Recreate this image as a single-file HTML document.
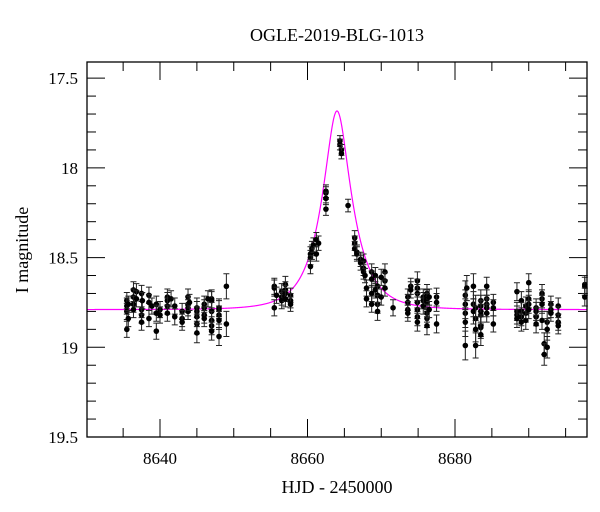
<!DOCTYPE html>
<html><head><meta charset="utf-8"><style>
body{margin:0;background:#fff}
svg{display:block}
text{font-family:"Liberation Serif",serif;fill:#000}
</style></head><body>
<svg id="chart" width="600" height="512" viewBox="0 0 600 512" xmlns="http://www.w3.org/2000/svg">
<text x="337" y="41" font-size="18" text-anchor="middle">OGLE-2019-BLG-1013</text>
<text x="337" y="493" font-size="18" text-anchor="middle">HJD - 2450000</text>
<text x="28" y="250" font-size="18" text-anchor="middle" transform="rotate(-90 28 250)">I magnitude</text>
<g id="axes"></g>
<g id="model"></g>
<g id="points"></g>
<rect x="87" y="62" width="500" height="375" fill="none" stroke="#000" stroke-width="1.3"/>
</svg>
<script>
// data: [time, [magnitudes], error]
const obsGroups = [
[8635.5,[18.74,18.77,18.80,18.90],0.045],[8635.7,[18.84,18.76],0.045],
[8636.4,[18.68,18.72,18.76,18.79],0.045],[8636.8,[18.69,18.73],0.045],
[8637.5,[18.70,18.79,18.82,18.86],0.045],[8637.6,[18.74],0.045],
[8638.5,[18.71,18.75,18.84],0.045],[8638.9,[18.77],0.045],
[8639.5,[18.76,18.81,18.91],0.045],[8640.0,[18.79,18.82],0.045],
[8641.0,[18.72,18.74,18.77,18.81],0.045],[8641.5,[18.73],0.045],
[8642.0,[18.77,18.83],0.045],[8643.0,[18.80,18.84,18.86],0.045],
[8643.8,[18.72,18.76,18.78,18.80],0.045],[8644.0,[18.75],0.045],
[8645.0,[18.78,18.80,18.83,18.87,18.92],0.055],[8646.0,[18.76,18.78,18.82,18.84],0.045],
[8646.5,[18.73],0.045],[8647.0,[18.73,18.74,18.80,18.85,18.88,18.91],0.05],
[8648.0,[18.78,18.79,18.82,18.85,18.94],0.05],[8649.0,[18.87,18.66],0.07],
[8655.5,[18.66,18.67,18.78],0.045],[8655.8,[18.71],0.045],
[8656.5,[18.69,18.72,18.74],0.045],[8657.0,[18.65,18.68,18.70,18.73],0.045],
[8657.7,[18.71,18.74,18.76],0.04],
[8660.4,[18.48,18.50,18.55],0.04],[8660.6,[18.45,18.47],0.04],[8660.8,[18.43],0.04],
[8661.2,[18.40,18.48],0.04],[8661.5,[18.42],0.04],
[8662.5,[18.13,18.14,18.17,18.23],0.035],
[8664.4,[17.85,17.87],0.03],[8664.6,[17.90,17.92],0.03],
[8665.5,[18.21],0.035],
[8666.4,[18.39,18.42,18.45],0.04],[8666.7,[18.47,18.48],0.04],
[8667.2,[18.51,18.53],0.04],[8667.6,[18.52,18.56,18.58],0.04],[8667.8,[18.60],0.04],
[8668.0,[18.67,18.73],0.045],[8668.7,[18.58,18.62,18.70,18.76],0.045],[8669.2,[18.60,18.68],0.045],
[8669.5,[18.66,18.71,18.76,18.80],0.05],[8670.0,[18.61,18.72],0.045],
[8670.5,[18.58,18.63,18.67],0.045],[8671.6,[18.78],0.045],
[8673.6,[18.72,18.75,18.79,18.81],0.045],[8674.0,[18.66,18.68],0.045],
[8674.9,[18.63,18.67,18.70,18.75,18.79,18.83,18.86],0.05],[8675.7,[18.72,18.74,18.77],0.045],
[8676.2,[18.70,18.73,18.75,18.81,18.84,18.88],0.05],[8676.5,[18.72,18.79],0.045],
[8677.5,[18.72,18.75,18.87],0.05],
[8681.4,[18.71,18.76,18.81,18.86,18.99],0.08],[8681.6,[18.67],0.07],
[8682.5,[18.66,18.76,18.80],0.07],[8682.8,[18.78,18.84,18.90,18.99],0.07],
[8683.5,[18.74,18.77,18.80,18.82,18.88,18.89,18.93],0.06],
[8684.3,[18.66,18.73,18.76,18.78,18.81],0.05],[8685.2,[18.75,18.78,18.87],0.045],
[8688.4,[18.69,18.80,18.82,18.84],0.05],[8689.0,[18.74,18.80,18.83,18.86],0.05],
[8689.6,[18.77,18.81,18.85],0.05],[8690.0,[18.64,18.73,18.76,18.79],0.05],
[8691.0,[18.78,18.80,18.83,18.87],0.05],[8691.8,[18.70,18.73,18.76,18.85],0.05],
[8692.1,[18.98,19.04],0.06],[8692.5,[18.86,18.90,19.00],0.06],
[8693.0,[18.76,18.79,18.81],0.045],[8694.0,[18.77,18.82,18.86,18.88],0.045],
[8697.6,[18.65,18.66,18.72],0.05]
];
const modelParams = [8664.0, 0.38, 3.9, 18.79]; // t0, u0, tE, baseline mag
const xTicks = [8640, 8660, 8680];
const yTicks = [17.5, 18, 18.5, 19, 19.5];
const xDomain = [8630.1, 8697.9];
const yDomain = [17.41, 19.5];

const NS = "http://www.w3.org/2000/svg";
const L=87,R=587,T=62,B=437;
const xs = t => L + (t - xDomain[0]) / (xDomain[1]-xDomain[0]) * (R-L);
const ys = m => T + (m - yDomain[0]) / (yDomain[1]-yDomain[0]) * (B-T);
function mk(tag, attrs, parent){const e=document.createElementNS(NS,tag);for(const k in attrs)e.setAttribute(k,attrs[k]);parent.appendChild(e);return e;}

const axes=document.getElementById('axes');
// x ticks every 5 days
for(let t=8635;t<=8695;t+=5){
  const major = xTicks.includes(t);
  const len = major?18:9, x=xs(t);
  const a=mk('line',{x1:x,x2:x,y1:B,y2:B-len,stroke:'#000','stroke-width':1},axes);
  
  
  const b=mk('line',{x1:x,x2:x,y1:T,y2:T+len,stroke:'#000','stroke-width':1},axes);
  
  
}
xTicks.forEach(t=>{
  const tx=mk('text',{x:xs(t),y:464,'font-size':17,'text-anchor':'middle'},axes);
  tx.textContent=t;
  
  
});
for(let i=0;i<=20;i++){
  const m=17.5+i*0.1; if(m>19.5001) break;
  const major = Math.abs(m*2-Math.round(m*2))<1e-6;
  const len=major?18:9, y=ys(m);
  const a=mk('line',{x1:L,x2:L+len,y1:y,y2:y,stroke:'#000','stroke-width':1},axes);
  
  
  const b=mk('line',{x1:R,x2:R-len,y1:y,y2:y,stroke:'#000','stroke-width':1},axes);
  
  
}
yTicks.forEach(m=>{
  const tx=mk('text',{x:78,y:ys(m)+6,'font-size':17,'text-anchor':'end'},axes);
  tx.textContent=m;
  
  
});

// model curve
const [t0,u0,tE,base]=modelParams;
let d='';
for(let t=xDomain[0];t<=xDomain[1];t+=0.05){
  const u=Math.sqrt(u0*u0+((t-t0)/tE)**2);
  const A=(u*u+2)/(u*Math.sqrt(u*u+4));
  const m=base-2.5*Math.log10(A);
  d+=(d?'L':'M')+xs(t).toFixed(2)+' '+ys(m).toFixed(2);
}
const mp=mk('path',{d:d,fill:'none',stroke:'#ff00ff','stroke-width':1.2},document.getElementById('model'));



// data points
const pts=document.getElementById('points');
obsGroups.forEach(g=>{
  const t=g[0], err=g[2], x=xs(t);
  g[1].forEach(m=>{
    const y1=ys(m-err), y2=ys(m+err);
    const eb=mk('path',{d:`M${x} ${y1}V${y2}M${x-3} ${y1}H${x+3}M${x-3} ${y2}H${x+3}`,stroke:'#222','stroke-width':1,fill:'none'},pts);
    
    
    const c=mk('circle',{cx:x,cy:ys(m),r:2.8,fill:'#000'},pts);
    
    
  });
});
</script>
</body></html>
